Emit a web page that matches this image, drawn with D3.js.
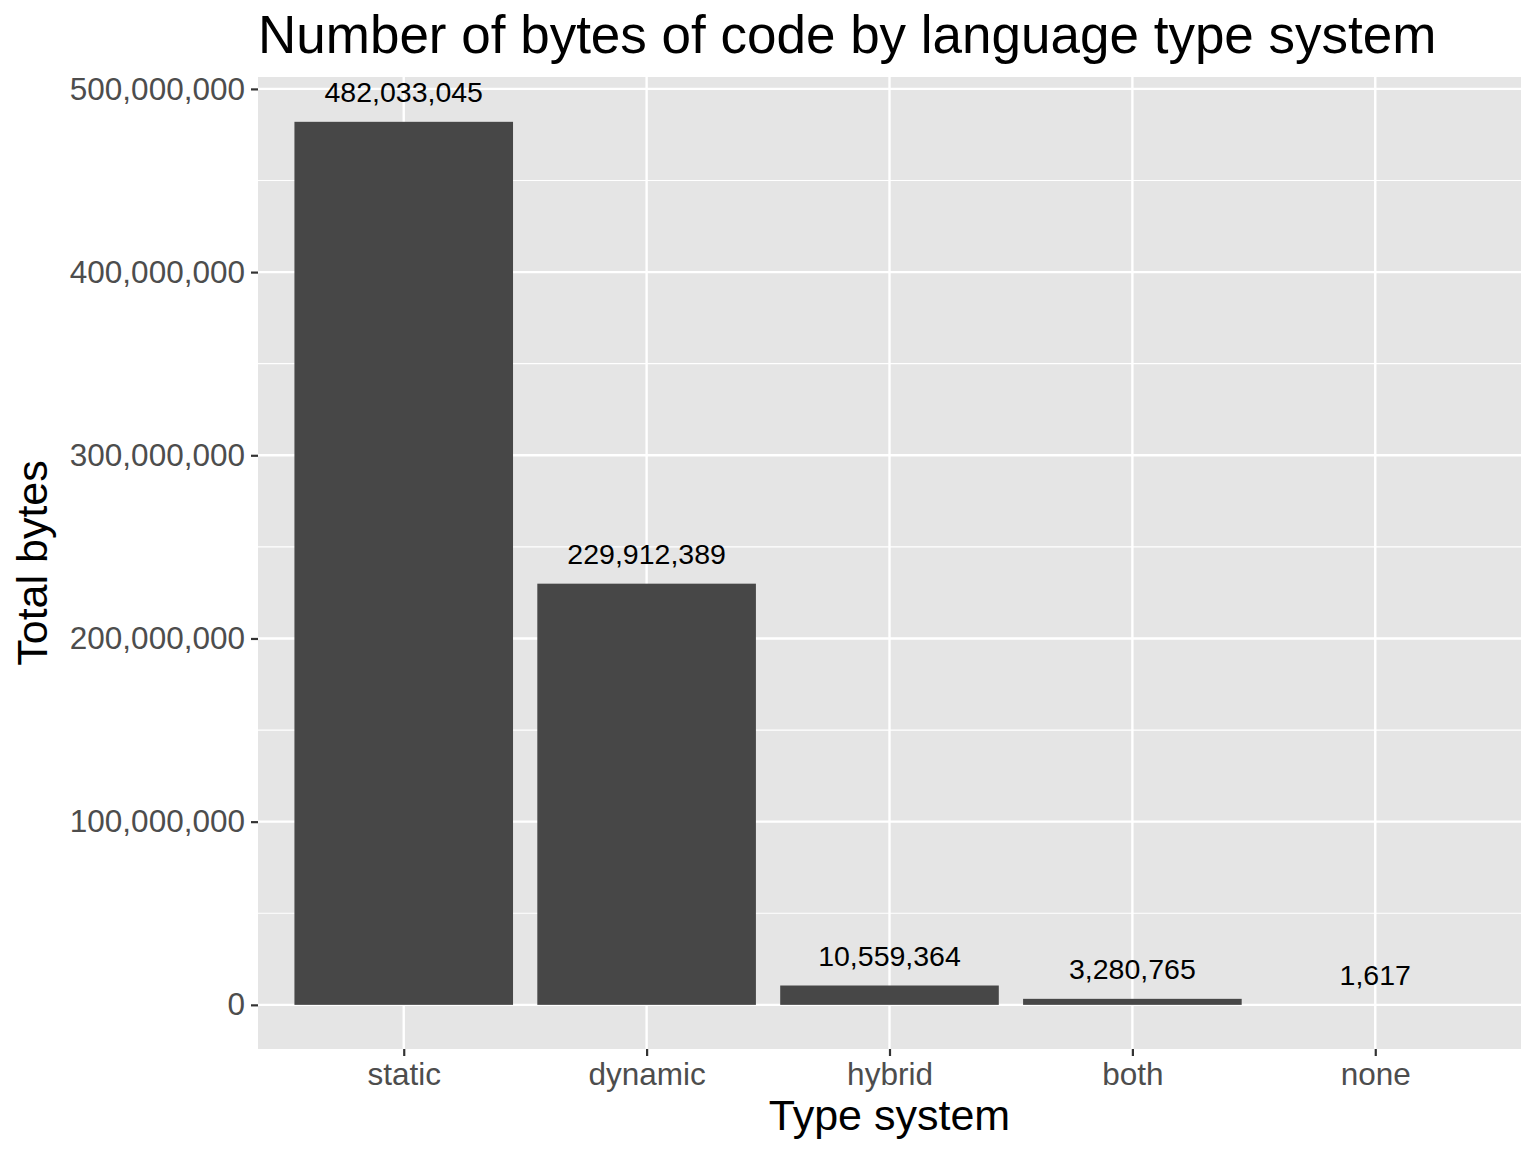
<!DOCTYPE html>
<html>
<head>
<meta charset="utf-8">
<script src="https://cdn.jsdelivr.net/npm/d3@7"></script>
<style>
  body { margin: 0; background: #fff; }
  svg text { font-family: "Liberation Sans", Arial, Helvetica, sans-serif; }
</style>
</head>
<body>
<div id="chart"></div>
<script>
// data
var categories = ["static", "dynamic", "hybrid", "both", "none"];
var totals = [482033045, 229912389, 10559364, 3280765, 1617];
var yTicks = [0, 100000000, 200000000, 300000000, 400000000, 500000000];
var yMinor = [50000000, 150000000, 250000000, 350000000, 450000000];

var width = 1536, height = 1152;
var panel = {left: 258, right: 1521, top: 77, bottom: 1049};

var svg = d3.select("#chart").append("svg")
    .attr("width", width)
    .attr("height", height);

var fmt = d3.format(",");

// discrete x scale with ggplot style expansion
var x = d3.scaleLinear()
    .domain([0.4, categories.length + 0.6])
    .range([panel.left, panel.right]);

var y = d3.scaleLinear()
    .domain([-24100000, 506500000])
    .range([panel.bottom, panel.top]);

// panel background
svg.append("rect")
    .attr("x", panel.left)
    .attr("y", panel.top)
    .attr("width", panel.right - panel.left)
    .attr("height", panel.bottom - panel.top)
    .style("fill", "#e5e5e5");

var grid = svg.append("g");

grid.selectAll("line.minor")
    .data(yMinor)
    .enter().append("line")
    .attr("x1", panel.left).attr("x2", panel.right)
    .attr("y1", d => y(d)).attr("y2", d => y(d))
    .style("stroke", "#fff")
    .style("stroke-width", 1.2);

grid.selectAll("line.majory")
    .data(yTicks)
    .enter().append("line")
    .attr("x1", panel.left).attr("x2", panel.right)
    .attr("y1", d => y(d)).attr("y2", d => y(d))
    .style("stroke", "#fff")
    .style("stroke-width", 2.4);

grid.selectAll("line.majorx")
    .data(categories)
    .enter().append("line")
    .attr("x1", (d, i) => x(i + 1)).attr("x2", (d, i) => x(i + 1))
    .attr("y1", panel.top).attr("y2", panel.bottom)
    .style("stroke", "#fff")
    .style("stroke-width", 2.4);

// bars
svg.selectAll("rect.bar")
    .data(totals)
    .enter().append("rect")
    .attr("class", "bar")
    .attr("x", (d, i) => x(i + 1 - 0.45))
    .attr("width", x(1.45) - x(0.55))
    .attr("y", d => y(d))
    .attr("height", d => y(0) - y(d))
    .style("fill", "#474747");

// value labels
svg.selectAll("text.val")
    .data(totals)
    .enter().append("text")
    .attr("x", (d, i) => x(i + 1))
    .attr("y", d => y(d) - 20)
    .attr("text-anchor", "middle")
    .style("font-size", "28.5px")
    .style("fill", "#000")
    .text(d => fmt(d));

// y axis
var yAxis = svg.append("g")
    .attr("transform", "translate(" + panel.left + ",0)")
    .call(d3.axisLeft(y).tickValues(yTicks).tickFormat(fmt).tickSizeOuter(0).tickSize(7).tickPadding(6));
yAxis.select(".domain").remove();
yAxis.selectAll(".tick line").style("stroke", "#333").style("stroke-width", 2.2);
yAxis.selectAll(".tick text")
    .style("font-size", "31.5px")
    .style("fill", "#4d4d4d")
    .style("font-family", "Liberation Sans, Arial, sans-serif");

// x axis
var xAxis = svg.append("g")
    .attr("transform", "translate(0," + panel.bottom + ")")
    .call(d3.axisBottom(x).tickValues(d3.range(1, categories.length + 1))
        .tickFormat(i => categories[i - 1]).tickSizeOuter(0).tickSize(7).tickPadding(7));
xAxis.select(".domain").remove();
xAxis.selectAll(".tick line").style("stroke", "#333").style("stroke-width", 2.2);
xAxis.selectAll(".tick text")
    .style("font-size", "31.5px")
    .style("fill", "#4d4d4d")
    .style("font-family", "Liberation Sans, Arial, sans-serif");

// titles
svg.append("text")
    .attr("x", panel.left)
    .attr("y", 53)
    .style("font-size", "53px")
    .style("fill", "#000")
    .text("Number of bytes of code by language type system");

svg.append("text")
    .attr("x", (panel.left + panel.right) / 2)
    .attr("y", 1130)
    .attr("text-anchor", "middle")
    .style("font-size", "43px")
    .style("fill", "#000")
    .text("Type system");

svg.append("text")
    .attr("transform", "translate(47," + ((panel.top + panel.bottom) / 2) + ") rotate(-90)")
    .attr("text-anchor", "middle")
    .style("font-size", "43px")
    .style("fill", "#000")
    .text("Total bytes");
</script>
</body>
</html>
